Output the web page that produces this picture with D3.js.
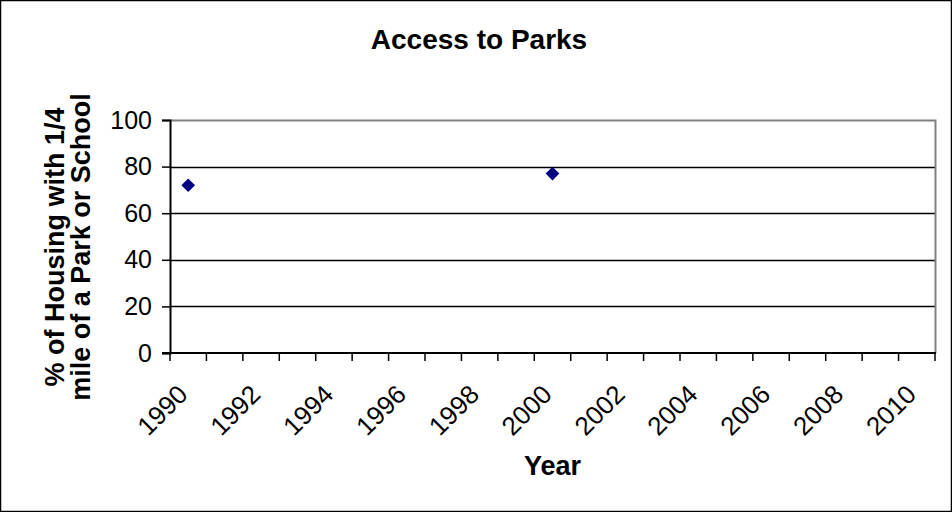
<!DOCTYPE html>
<html>
<head>
<meta charset="utf-8">
<script src="https://cdn.jsdelivr.net/npm/d3@7"></script>
<style>
	body { margin: 0; background: #fff; }
	svg text { font-family: Arial, "Liberation Sans", sans-serif; fill: #000; }
</style>
</head>
<body>
<script>
// chart data
var years = d3.range(1990, 2011);          // category axis 1990..2010
var pointYears = [1990, 2000];
var pointValues = [72, 77];
var yTicks = [0, 20, 40, 60, 80, 100];
var labelYears = years.filter(function (d) { return (d - 1990) % 2 === 0; });

var width = 952;
var height = 512;
var margin = { top: 120, right: 17, bottom: 159, left: 170 };

var svg = d3.select("body").append("svg")
	.attr("width", width)
	.attr("height", height);

// outer chart border
svg.append("rect")
	.attr("x", 0.5).attr("y", 0.5)
	.attr("width", width - 1).attr("height", height - 1)
	.attr("fill", "#fff")
	.attr("stroke", "#000")
	.attr("stroke-width", 1.5);

var x = d3.scaleBand()
	.domain(years)
	.range([margin.left, width - margin.right])
	.padding(0);

var y = d3.scaleLinear()
	.domain([0, 100])
	.range([height - margin.bottom, margin.top]);

var x0 = margin.left, x1 = width - margin.right;
var yBottom = y(0), yTop = y(100);

// gridlines
svg.append("g")
	.selectAll("line")
	.data(yTicks.filter(function (d) { return d > 0 && d < 100; }))
	.enter().append("line")
	.attr("x1", x0).attr("x2", x1)
	.attr("y1", function (d) { return Math.round(y(d)) + 0.5; })
	.attr("y2", function (d) { return Math.round(y(d)) + 0.5; })
	.attr("stroke", "#000")
	.attr("stroke-width", 1.5);

// plot area border (top + right are grey)
svg.append("path")
	.attr("d", "M" + x0 + "," + (Math.round(yTop) + 0.5) + "H" + (x1 + 0.5) + "V" + yBottom)
	.attr("fill", "none")
	.attr("stroke", "#808080")
	.attr("stroke-width", 2);

// Y axis
var yAxis = svg.append("g")
	.attr("transform", "translate(" + x0 + ",0)")
	.call(d3.axisLeft(y).tickValues(yTicks).tickSize(8).tickPadding(10));
yAxis.select(".domain").attr("stroke", "#000").attr("stroke-width", 2);
yAxis.selectAll(".tick line").attr("stroke", "#000").attr("stroke-width", 1.5);
yAxis.selectAll(".tick text")
	.attr("font-size", "25px")
	.attr("font-family", "Arial, 'Liberation Sans', sans-serif")
	.attr("fill", "#000");

// X axis: ticks between categories, labels every 2 years
var xg = svg.append("g");
xg.append("line")
	.attr("x1", x0 - 8).attr("x2", x1 + 1)
	.attr("y1", yBottom).attr("y2", yBottom)
	.attr("stroke", "#000").attr("stroke-width", 2);
var bounds = years.map(function (d) { return x(d); }).concat([x1]);
xg.selectAll("line.tick")
	.data(bounds)
	.enter().append("line")
	.attr("class", "tick")
	.attr("x1", function (d) { return d; }).attr("x2", function (d) { return d; })
	.attr("y1", yBottom).attr("y2", yBottom + 8)
	.attr("stroke", "#000").attr("stroke-width", 1.5);
xg.selectAll("text")
	.data(labelYears)
	.enter().append("text")
	.attr("transform", function (d) {
		return "translate(" + (x(d) + x.bandwidth() / 2 + 1) + "," + (yBottom + 43) + ") rotate(-45)";
	})
	.attr("text-anchor", "end")
	.attr("font-size", "26px")
	.text(function (d) { return d; });

// points
var pts = pointYears.map(function (d, i) { return { year: d, value: pointValues[i] }; });
svg.append("g")
	.selectAll("path")
	.data(pts)
	.enter().append("path")
	.attr("d", d3.symbol().type(d3.symbolDiamond2).size(120))
	.attr("transform", function (d) {
		return "translate(" + (x(d.year) + x.bandwidth() / 2) + "," + y(d.value) + ")";
	})
	.attr("fill", "#000080");

// title
svg.append("text")
	.attr("x", 479).attr("y", 49)
	.attr("text-anchor", "middle")
	.attr("font-size", "28px")
	.attr("font-weight", "bold")
	.text("Access to Parks");

// axis titles
var yTitle = svg.append("text")
	.attr("transform", "translate(64,247) rotate(-90)")
	.attr("text-anchor", "middle")
	.attr("font-size", "27px")
	.attr("font-weight", "bold");
yTitle.append("tspan").attr("x", 0).attr("dy", 0).text("% of Housing with 1/4");
yTitle.append("tspan").attr("x", 0).attr("dy", 26).text("mile of a Park or School");

svg.append("text")
	.attr("x", (x0 + x1) / 2).attr("y", 475)
	.attr("text-anchor", "middle")
	.attr("font-size", "27px")
	.attr("font-weight", "bold")
	.text("Year");
</script>
</body>
</html>
